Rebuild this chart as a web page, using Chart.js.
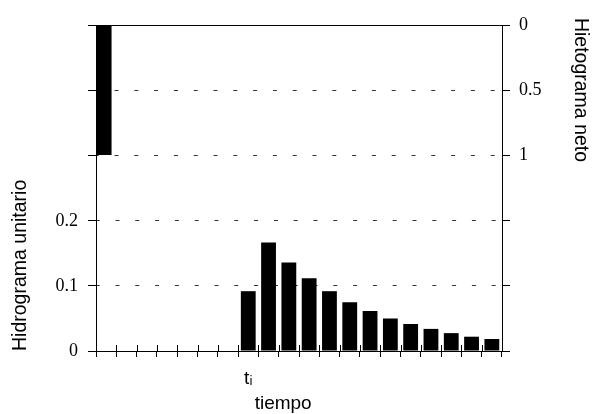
<!DOCTYPE html>
<html lang="es">
<head>
<meta charset="utf-8">
<title>Hietograma neto e hidrograma unitario</title>
<script src="https://cdn.jsdelivr.net/npm/chart.js@4/dist/chart.umd.min.js"></script>
<style>
  html, body { margin: 0; padding: 0; background: #fff; }
  #wrap { width: 605px; height: 414px; position: relative; }
</style>
</head>
<body>
<div id="wrap"><canvas id="chart"></canvas></div>
<script>
// Eje de tiempo: 20 intervalos, solo se rotula t_i
const tiempos = ['', '', '', '', '', '', '', 'tᵢ', '', '', '', '', '', '', '', '', '', '', '', ''];

// Medios intervalos para el pulso del hietograma
const mediosIntervalos = Array.from({ length: 40 }, (_, i) => String(i));

// Hietograma neto (pulso unitario en el primer medio intervalo)
const hietograma = [1];

// Hidrograma unitario (ordenadas)
const hidrograma = [null, null, null, null, null, null, null,
  0.092, 0.167, 0.136, 0.112, 0.092, 0.075, 0.0615, 0.050, 0.0415, 0.034, 0.0275, 0.022, 0.0185];

// Marcas de los ejes
const ticksUnitario = [0, 0.1, 0.2];
const ticksNeto = [0, 0.5, 1];

const SANS = "'Liberation Sans', Arial, 'DejaVu Sans', sans-serif";
const SERIF = "'Liberation Serif', 'Times New Roman', serif";
const NEGRO = '#000';
const GRIS = '#333';
const NADA = 'rgba(0,0,0,0)';

Chart.defaults.color = NEGRO;

// Lineas punteadas salvo en el borde (valor 0)
const gridColor = (c) => (c.tick && c.tick.value === 0 ? NADA : GRIS);

// Marcas del eje x que cruzan hacia dentro del area
const marcasInternas = {
  id: 'marcasInternas',
  afterDraw(chart) {
    const x = chart.scales.x;
    const y0 = chart.chartArea.bottom;
    const ctx = chart.ctx;
    ctx.save();
    ctx.strokeStyle = NEGRO;
    ctx.lineWidth = 1;
    ctx.beginPath();
    for (let i = 0; i <= tiempos.length; i++) {
      const px = Math.round(x.getPixelForValue(i - 0.5)) + 0.5;
      ctx.moveTo(px, y0);
      ctx.lineTo(px, y0 - 6);
    }
    ctx.stroke();
    ctx.restore();
  }
};

new Chart(document.getElementById('chart'), {
  type: 'bar',
  data: {
    labels: tiempos,
    datasets: [
      {
        label: 'Hietograma neto',
        data: hietograma,
        xAxisID: 'x2',
        yAxisID: 'yR',
        backgroundColor: NEGRO,
        grouped: false,
        barPercentage: 1,
        categoryPercentage: 1
      },
      {
        label: 'Hidrograma unitario',
        data: hidrograma,
        xAxisID: 'x',
        yAxisID: 'yL',
        backgroundColor: NEGRO,
        grouped: false,
        barPercentage: 0.73,
        categoryPercentage: 1
      }
    ]
  },
  options: {
    responsive: true,
    maintainAspectRatio: false,
    animation: false,
    layout: { autoPadding: false, padding: { top: 25, left: 0, right: 0, bottom: 0 } },
    plugins: { legend: { display: false }, tooltip: { enabled: false } },
    scales: {
      x: {
        type: 'category',
        position: 'bottom',
        offset: true,
        grid: { offset: true, drawOnChartArea: false, tickLength: 6, color: NEGRO, tickColor: NEGRO },
        border: { color: NEGRO, width: 1 },
        ticks: { autoSkip: false, maxRotation: 0, padding: 10, color: NEGRO, font: { family: SANS, size: 19 } },
        title: {
          display: true,
          text: 'tiempo      ',
          color: NEGRO,
          font: { family: SANS, size: 19, lineHeight: 1 },
          padding: { top: 0, bottom: 0.5 }
        },
        afterFit: (s) => { s.height = 63; }
      },
      x2: {
        type: 'category',
        labels: mediosIntervalos,
        offset: true,
        display: false
      },
      xTop: {
        type: 'category',
        position: 'top',
        ticks: { display: false },
        grid: { display: false },
        border: { display: true, color: NEGRO, width: 1 },
        afterFit: (s) => { s.height = 0; }
      },
      // Izquierda: parte superior (solo marcas) e hidrograma abajo
      yLtop: {
        type: 'linear',
        position: 'left',
        stack: 'izq',
        stackWeight: 130,
        weight: 2,
        reverse: true,
        min: 0,
        max: 1,
        afterBuildTicks: (s) => { s.ticks = ticksNeto.map((v) => ({ value: v })); },
        grid: { drawOnChartArea: false, tickLength: 8, tickColor: NEGRO },
        border: { color: NEGRO, width: 1 },
        ticks: { display: false },
        afterFit: (s) => { s.width = 96; }
      },
      yL: {
        type: 'linear',
        position: 'left',
        stack: 'izq',
        stackWeight: 196,
        weight: 1,
        min: 0,
        max: 0.3015,
        afterBuildTicks: (s) => { s.ticks = ticksUnitario.map((v) => ({ value: v })); },
        grid: { color: gridColor, tickLength: 8, tickColor: NEGRO },
        border: { color: NEGRO, width: 1, dash: [4, 15.8], dashOffset: 1.3 },
        ticks: { padding: 10, color: NEGRO, font: { family: SERIF, size: 18 }, callback: (v) => String(v) },
        title: {
          display: true,
          text: 'Hidrograma unitario',
          align: 'start',
          color: NEGRO,
          font: { family: SANS, size: 19.5, lineHeight: 1 },
          padding: { top: 11, bottom: 0 }
        },
        afterFit: (s) => { s.width = 96; }
      },
      // Derecha: hietograma neto arriba (invertido) y marcas abajo
      yR: {
        type: 'linear',
        position: 'right',
        stack: 'der',
        stackWeight: 130,
        weight: 1,
        reverse: true,
        min: 0,
        max: 1,
        afterBuildTicks: (s) => { s.ticks = ticksNeto.map((v) => ({ value: v })); },
        grid: { color: gridColor, tickLength: 8, tickColor: NEGRO },
        border: { color: NEGRO, width: 1, dash: [4, 15.8], dashOffset: 1.3 },
        ticks: { padding: 9, color: NEGRO, font: { family: SERIF, size: 18 }, callback: (v) => String(v) },
        title: {
          display: true,
          text: 'Hietograma neto',
          align: 'center',
          color: NEGRO,
          font: { family: SANS, size: 19.5, lineHeight: 1 },
          padding: { top: 14.5, bottom: 0 }
        },
        afterFit: (s) => { s.width = 103; }
      },
      yRbot: {
        type: 'linear',
        position: 'right',
        stack: 'der',
        stackWeight: 196,
        weight: 2,
        min: 0,
        max: 0.3015,
        afterBuildTicks: (s) => { s.ticks = ticksUnitario.map((v) => ({ value: v })); },
        grid: { drawOnChartArea: false, tickLength: 8, tickColor: NEGRO },
        border: { color: NEGRO, width: 1 },
        ticks: { display: false },
        afterFit: (s) => { s.width = 103; }
      }
    }
  },
  plugins: [marcasInternas]
});
</script>
</body>
</html>
